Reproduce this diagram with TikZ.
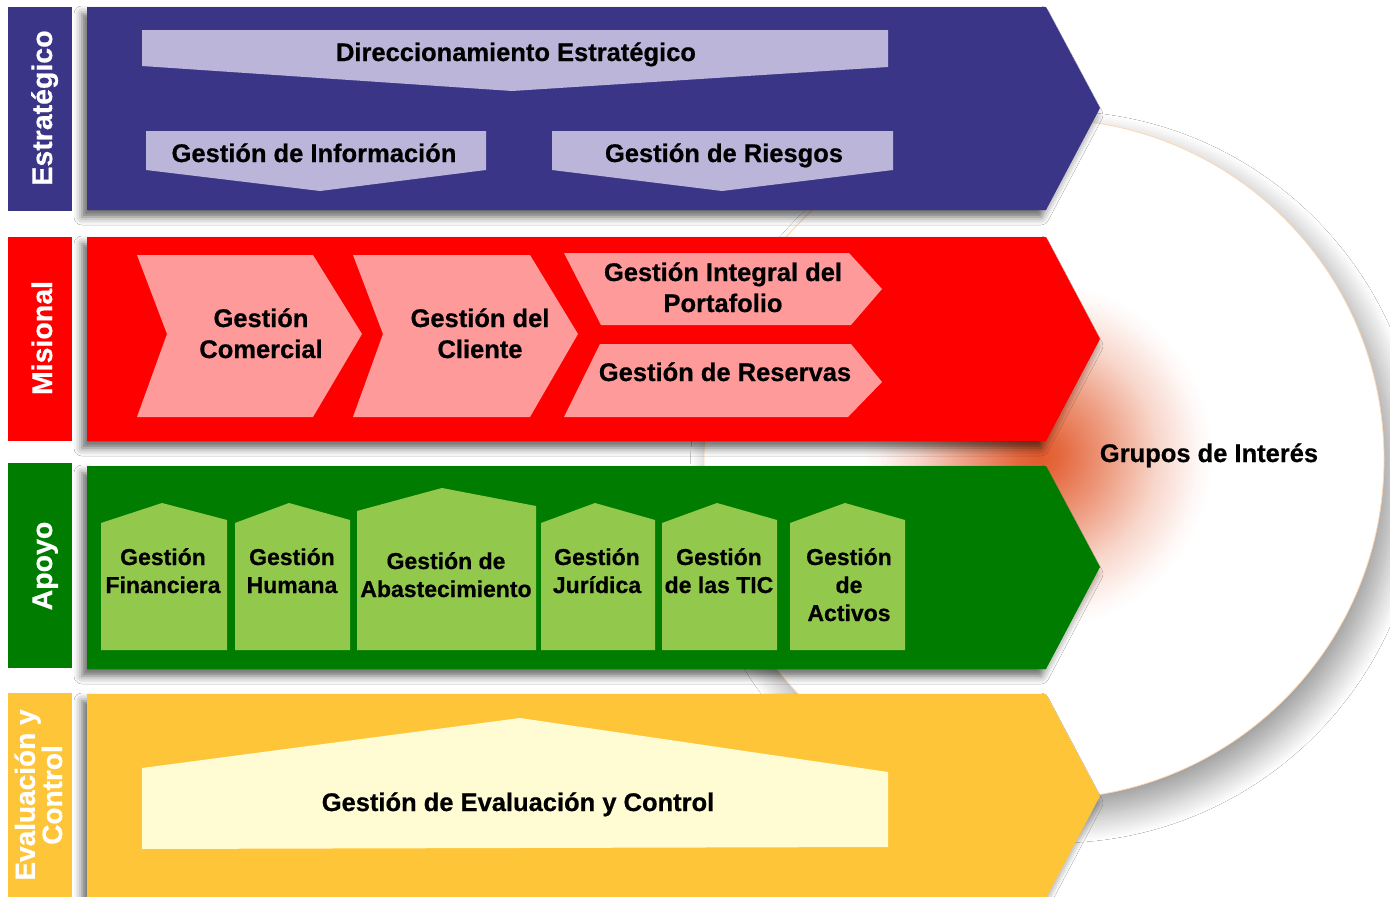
\documentclass[tikz,border=0pt]{standalone}
\usepackage{fontspec}
\setmainfont{Liberation Sans}[BoldFeatures={FakeBold=0.6}]
\usetikzlibrary{shadows.blur}
\definecolor{bandblue}{RGB}{58,53,134}
\definecolor{lavender}{RGB}{187,181,218}
\definecolor{bandred}{RGB}{255,0,0}
\definecolor{pinkbox}{RGB}{255,154,154}
\definecolor{bandgreen}{RGB}{0,125,0}
\definecolor{lightgreen}{RGB}{146,200,75}
\definecolor{bandyellow}{RGB}{255,197,56}
\definecolor{cream}{RGB}{255,251,210}
\definecolor{glowc}{RGB}{226,90,44}
\definecolor{peach}{RGB}{255,215,175}
\pgfdeclareradialshading{glow}{\pgfpoint{0bp}{0bp}}{color(0bp)=(glowc); color(3bp)=(glowc!92!white); color(10bp)=(glowc!60!white); color(17bp)=(glowc!25!white); color(23bp)=(glowc!4!white); color(25bp)=(white); color(50bp)=(white)}
\tikzset{
  x=1pt, y=-1pt,
  bandshadow/.style={blur shadow={shadow xshift=-5pt, shadow yshift=-7pt, shadow blur radius=8pt, shadow opacity=60}},
  maintxt/.style={font=\bfseries\fontsize{25.5}{31}\selectfont, text=black, align=center, inner sep=0pt, anchor=base},
  greentxt/.style={font=\bfseries\fontsize{23}{28}\selectfont, text=black, align=center, inner sep=0pt, anchor=base},
  sidetxt/.style={font=\bfseries\fontsize{28.5}{25}\selectfont, text=white, align=center, inner sep=0pt, rotate=90, anchor=base},
}
\begin{document}
\begin{tikzpicture}
\fill[white] (0,0) rectangle (1390,897);
\useasboundingbox (0,0) rectangle (1390,897);
\begin{scope}
\clip (0,0) rectangle (1390,897);
% circle of stakeholders
\path[fill=white, draw=peach, line width=0.8pt,
  blur shadow={shadow xshift=12pt, shadow yshift=-18pt, shadow blur radius=26pt, shadow opacity=40, shadow blur steps=20}]
  (1044,459) circle (340);
\shade[shading=glow] (1038,455) circle (175);
% bands
\path[bandshadow, fill=bandblue] (87,7) -- (1046,7) -- (1100,108) -- (1046,210) -- (87,210) -- cycle;
\path[bandshadow, fill=bandred] (87,237) -- (1046,237) -- (1100,339) -- (1046,441) -- (87,441) -- cycle;
\path[bandshadow, fill=bandgreen] (87,466) -- (1046,466) -- (1100,567) -- (1046,669) -- (87,669) -- cycle;
\path[bandshadow, fill=bandyellow] (87,694) -- (1046,694) -- (1100,796) -- (1046,898) -- (87,898) -- cycle;
% side boxes
\fill[bandblue] (8,7) rectangle (72,211);
\fill[bandred] (8,237) rectangle (72,441);
\fill[bandgreen] (8,463) rectangle (72,668);
\fill[bandyellow] (8,693) rectangle (72,897);
\end{scope}
\node[sidetxt] (lblE) at (52,108) {Estratégico};
\node[sidetxt] (lblM) at (52,338) {Misional};
\node[sidetxt] (lblA) at (52,566) {Apoyo};
\node[sidetxt, font=\bfseries\fontsize{28}{25}\selectfont] (lblV) at (62,795) {Evaluación y\\Control};
% strategic
\fill[lavender] (142,30) -- (888,30) -- (888,67) -- (512,91) -- (142,66) -- cycle;
\fill[lavender] (146,131) -- (486,131) -- (486,170) -- (320,191) -- (146,170) -- cycle;
\fill[lavender] (552,131) -- (893,131) -- (893,170) -- (722,191) -- (552,170) -- cycle;
\node[maintxt] (dir) at (516,61) {Direccionamiento Estratégico};
\node[maintxt] (inf) at (314,162) {Gestión de Información};
\node[maintxt] (rie) at (724,162) {Gestión de Riesgos};
% misional
\fill[pinkbox] (137,255) -- (313,255) -- (362,334) -- (313,417) -- (137,417) -- (167,334) -- cycle;
\fill[pinkbox] (353,255) -- (530,255) -- (578,334) -- (530,417) -- (353,417) -- (383,334) -- cycle;
\fill[pinkbox] (564,253) -- (849,253) -- (882,289) -- (851,325) -- (601,325) -- cycle;
\fill[pinkbox] (600,344) -- (851,344) -- (882,382) -- (848,417) -- (564,417) -- cycle;
\node[maintxt] (com) at (261,358) {Gestión\\Comercial};
\node[maintxt] (cli) at (480,358) {Gestión del\\Cliente};
\node[maintxt] (por) at (723,312) {Gestión Integral del\\Portafolio};
\node[maintxt] (res) at (725,381) {Gestión de Reservas};
% apoyo
\fill[lightgreen] (101,650) -- (101,523) -- (162,503) -- (227,520) -- (227,650) -- cycle;
\fill[lightgreen] (235,650) -- (235,523) -- (289,503) -- (350,520) -- (350,650) -- cycle;
\fill[lightgreen] (357,650) -- (357,511) -- (442,488) -- (536,506) -- (536,650) -- cycle;
\fill[lightgreen] (541,650) -- (541,523) -- (595,503) -- (655,520) -- (655,650) -- cycle;
\fill[lightgreen] (662,650) -- (662,523) -- (717,503) -- (777,520) -- (777,650) -- cycle;
\fill[lightgreen] (790,650) -- (790,523) -- (845,503) -- (905,520) -- (905,650) -- cycle;
\node[greentxt] (fin) at (163,593) {Gestión\\Financiera};
\node[greentxt] (hum) at (292,593) {Gestión\\Humana};
\node[greentxt] (aba) at (446,597) {Gestión de\\Abastecimiento};
\node[greentxt] (jur) at (597,593) {Gestión\\Jurídica};
\node[greentxt] (tic) at (719,593) {Gestión\\de las TIC};
\node[greentxt] (act) at (849,621) {Gestión\\de\\Activos};
% evaluacion
\fill[cream] (142,768) -- (520,718) -- (888,772) -- (888,847) -- (142,849) -- cycle;
\node[maintxt] (eva) at (518,811) {Gestión de Evaluación y Control};
% stakeholders
\node[maintxt] (gru) at (1209,462) {Grupos de Interés};
\end{tikzpicture}
\end{document}
